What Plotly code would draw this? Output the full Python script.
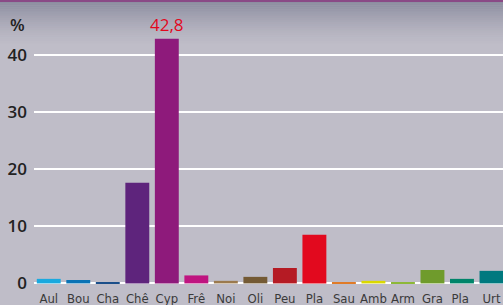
import plotly.graph_objects as go

categories = ["Aul", "Bou", "Cha", "Chê", "Cyp", "Frê", "Noi", "Oli", "Peu", "Pla", "Sau", "Amb", "Arm", "Gra", "Pla ", "Urt"]
values = [0.8, 0.6, 0.15, 17.6, 42.8, 1.4, 0.45, 1.15, 2.7, 8.5, 0.15, 0.45, 0.1, 2.35, 0.8, 2.2]
colors = ["#1aa9df", "#0a73b5", "#1c4f8a", "#5e247c", "#8e1a7b", "#bf1480", "#9b7a4e", "#745a34",
          "#b51b24", "#e2091e", "#e07b28", "#dad800", "#8db839", "#6f9b2c", "#00846a", "#00797f"]
y_ticks = [0, 10, 20, 30, 40]
highlight_index = 4

PH = 284  # plot height in px

fig = go.Figure()
fig.add_trace(go.Bar(
    x=list(range(len(categories))), y=values,
    marker=dict(color=colors, line=dict(width=0)),
    width=0.81, hoverinfo="skip",
))

# Gradient band at top
shapes = []
n = 24
top_px = 44
for i in range(n):
    frac = i / n
    y0 = 1 - (i * top_px / n) / PH
    y1 = 1 - ((i + 1) * top_px / n) / PH
    a = 0.5 * (1 - frac) ** 1.4
    shapes.append(dict(type="rect", xref="paper", yref="paper", x0=-0.2, x1=1.1, y0=y1, y1=y0,
                       fillcolor=f"rgba(85,90,116,{a:.3f})", line=dict(width=0), layer="below"))
shapes.append(dict(type="rect", xref="paper", yref="paper", x0=-0.2, x1=1.1, y0=1 - 2/PH, y1=1.02,
                   fillcolor="#8a4a86", line=dict(width=0), layer="above"))

fig.update_layout(
    width=503, height=305,
    margin=dict(l=34, r=0, t=0, b=21),
    paper_bgcolor="#bfbdc8", plot_bgcolor="rgba(0,0,0,0)",
    showlegend=False, bargap=0.19,
    shapes=shapes,
    xaxis=dict(
        range=[-0.5, 15.39], tickmode="array", tickvals=list(range(len(categories))),
        ticktext=categories, showgrid=False, zeroline=False, showline=False,
        ticks="", tickangle=0, automargin=False, ticklabelstandoff=5,
        tickfont=dict(family="DejaVu Sans Condensed", size=13, color="#3a3a3a"),
        fixedrange=True,
    ),
    yaxis=dict(
        range=[-0.1, 49.6], tickmode="array", tickvals=y_ticks,
        ticktext=[str(t) for t in y_ticks], automargin=False,
        showgrid=True, gridcolor="#ffffff", gridwidth=2,
        zeroline=True, zerolinecolor="#ffffff", zerolinewidth=2,
        ticks="", ticklabelstandoff=6,
        tickfont=dict(family="Open Sans", size=17, color="#222222", weight=600),
        fixedrange=True,
    ),
    annotations=[
        dict(text="%", xref="paper", yref="paper", x=-7/469, y=1 - 24/PH,
             xanchor="right", yanchor="middle", showarrow=False,
             font=dict(family="Open Sans", size=17, color="#222222", weight=600)),
        dict(text=f"{values[highlight_index]:.1f}".replace(".", ","), x=highlight_index,
             y=values[highlight_index], xref="x", yref="y", yanchor="bottom", yshift=1,
             showarrow=False, font=dict(family="Open Sans", size=17, color="#e2081e")),
    ],
)

fig.write_html("out.html", config={"displayModeBar": False},
               post_script="document.body.style.margin='0px';document.body.style.overflow='hidden';")
